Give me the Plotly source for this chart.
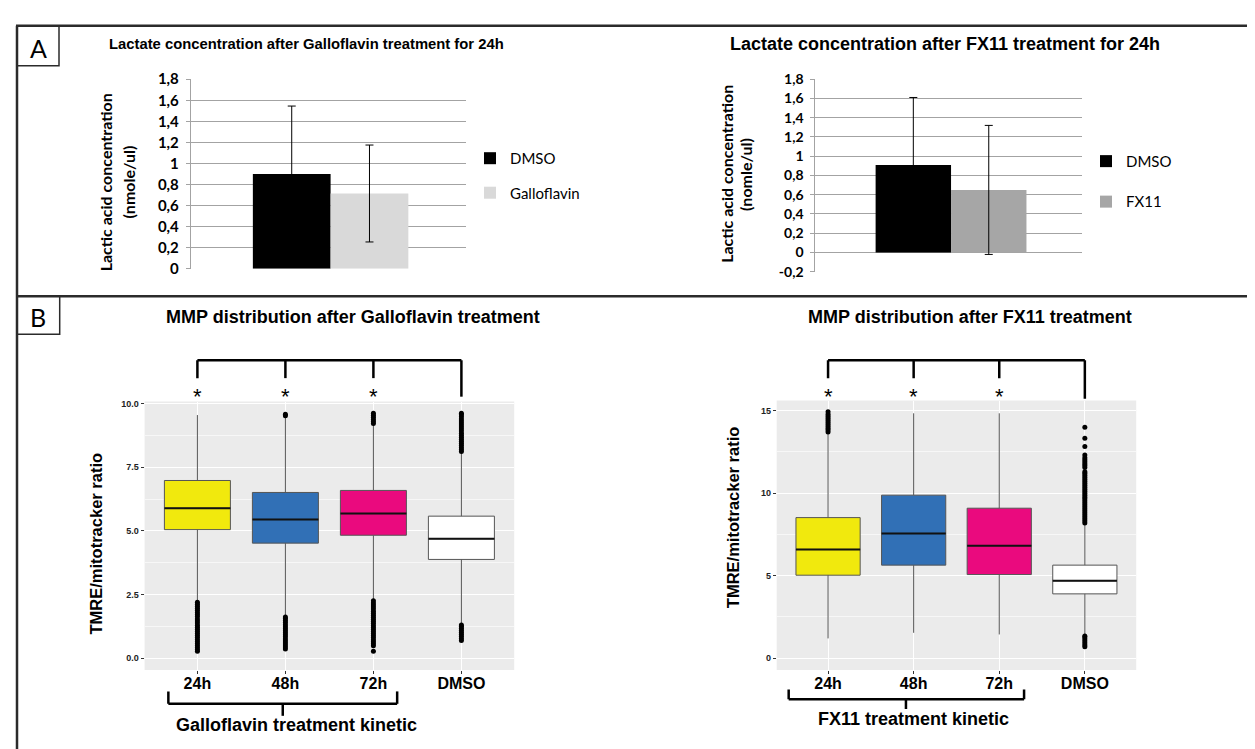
import plotly.graph_objects as go

W, H = 1255, 749

# ---------------- Panel A data (lactate) ----------------
lact_gallo_groups = ["DMSO", "Galloflavin"]
lact_gallo_mean = [0.90, 0.715]
lact_gallo_err = [0.645, 0.46]
lact_gallo_colors = ["#000000", "#d9d9d9"]

lact_fx_groups = ["DMSO", "FX11"]
lact_fx_mean = [0.91, 0.65]
lact_fx_err = [0.70, 0.67]
lact_fx_colors = ["#000000", "#a6a6a6"]

lact_ticks_left = [0, 0.2, 0.4, 0.6, 0.8, 1.0, 1.2, 1.4, 1.6, 1.8]
lact_ticks_right = [-0.2, 0, 0.2, 0.4, 0.6, 0.8, 1.0, 1.2, 1.4, 1.6, 1.8]

# ---------------- Panel B data (MMP box plots) ----------------
mmp_groups = ["24h", "48h", "72h", "DMSO"]
box_colors = ["#f1e90d", "#3170b6", "#ea0a7e", "#ffffff"]

gallo_q1 = [5.05, 4.52, 4.83, 3.88]
gallo_median = [5.89, 5.45, 5.68, 4.69]
gallo_q3 = [6.98, 6.51, 6.59, 5.58]
gallo_lower = [2.24, 1.68, 2.30, 1.36]
gallo_upper = [9.55, 9.45, 9.18, 8.08]
gallo_outliers = [
    [0.27, 0.34, 0.42, 0.50, 0.58, 0.66, 0.74, 0.82, 0.90, 0.98, 1.06, 1.14, 1.22,
     1.30, 1.38, 1.46, 1.54, 1.64, 1.72, 1.80, 1.88, 1.96, 2.04, 2.12, 2.20],
    [0.36, 0.44, 0.52, 0.60, 0.68, 0.76, 0.84, 0.92, 1.00, 1.08, 1.16, 1.24, 1.32,
     1.40, 1.48, 1.56, 1.62, 9.52, 9.58],
    [0.27, 0.49, 0.57, 0.65, 0.73, 0.81, 0.89, 0.97, 1.05, 1.13, 1.21, 1.29, 1.37,
     1.45, 1.53, 1.61, 1.69, 1.77, 1.85, 1.93, 2.01, 2.09, 2.17, 2.26,
     9.22, 9.30, 9.38, 9.46, 9.54, 9.62],
    [0.70, 0.78, 0.86, 0.94, 1.02, 1.10, 1.18, 1.26, 1.31,
     8.12, 8.20, 8.28, 8.36, 8.44, 8.52, 8.60, 8.68, 8.76, 8.84, 8.92, 9.00, 9.08,
     9.16, 9.24, 9.32, 9.40, 9.48, 9.56, 9.62],
]

fx_q1 = [5.03, 5.64, 5.07, 3.90]
fx_median = [6.59, 7.56, 6.82, 4.69]
fx_q3 = [8.52, 9.88, 9.09, 5.64]
fx_lower = [1.20, 1.54, 1.44, 1.42]
fx_upper = [13.65, 14.84, 14.84, 8.16]
fx_outliers = [
    [13.70, 13.82, 13.94, 14.06, 14.18, 14.30, 14.42, 14.54, 14.66, 14.78, 14.94],
    [],
    [],
    [0.69, 0.80, 0.92, 1.04, 1.16, 1.28, 1.34,
     8.20, 8.32, 8.44, 8.56, 8.68, 8.80, 8.92, 9.04, 9.16, 9.28, 9.40, 9.52, 9.64,
     9.76, 9.88, 10.00, 10.12, 10.24, 10.36, 10.48, 10.60, 10.72, 10.84, 10.96,
     11.08, 11.20, 11.30, 11.55, 11.67, 11.79, 11.91, 12.03, 12.15, 12.32,
     12.83, 13.33, 14.00],
]

BOX_WIDTH = 0.75


def px(v):
    return v / W


def py(v):
    return 1 - v / H


fig = go.Figure()

# ---------- Panel A bars ----------
for name, m, e, c in zip(lact_gallo_groups, lact_gallo_mean, lact_gallo_err, lact_gallo_colors):
    fig.add_trace(go.Bar(
        x=[0], y=[m], name=name, marker=dict(color=c, line=dict(width=0)),
        error_y=dict(type="data", array=[e], color="#000000", thickness=1, width=4),
        xaxis="x", yaxis="y", legend="legend", legendgroup="g" + name,
    ))
for name, m, e, c in zip(lact_fx_groups, lact_fx_mean, lact_fx_err, lact_fx_colors):
    fig.add_trace(go.Bar(
        x=[0], y=[m], name=name, marker=dict(color=c, line=dict(width=0)),
        error_y=dict(type="data", array=[e], color="#000000", thickness=1, width=4),
        xaxis="x2", yaxis="y2", legend="legend2", legendgroup="f" + name,
    ))

# ---------- Panel B boxes ----------
def add_boxes(q1s, meds, q3s, lows, ups, outs, xa, ya):
    for i, g in enumerate(mmp_groups):
        pos = i + 1
        fig.add_trace(go.Box(
            x=[pos], q1=[q1s[i]], median=[meds[i]], q3=[q3s[i]],
            lowerfence=[lows[i]], upperfence=[ups[i]],
            width=BOX_WIDTH, whiskerwidth=0, fillcolor=box_colors[i],
            line=dict(color="#555555", width=1), boxpoints=False,
            name=g, showlegend=False, xaxis=xa, yaxis=ya, hoverinfo="skip",
        ))
        # thick median line
        fig.add_trace(go.Scatter(
            x=[pos - BOX_WIDTH / 2, pos + BOX_WIDTH / 2], y=[meds[i], meds[i]],
            mode="lines", line=dict(color="#111111", width=2),
            showlegend=False, xaxis=xa, yaxis=ya, hoverinfo="skip",
        ))
        if outs[i]:
            fig.add_trace(go.Scatter(
                x=[pos] * len(outs[i]), y=outs[i], mode="markers",
                marker=dict(color="#000000", size=5),
                showlegend=False, xaxis=xa, yaxis=ya, hoverinfo="skip",
            ))


add_boxes(gallo_q1, gallo_median, gallo_q3, gallo_lower, gallo_upper, gallo_outliers, "x3", "y3")
add_boxes(fx_q1, fx_median, fx_q3, fx_lower, fx_upper, fx_outliers, "x4", "y4")

# ---------- Axes ----------
grid_a = "#a3a3a3"


def comma_labels(vals):
    return [f"{round(v, 1):g}".replace(".", ",") for v in vals]


common_xa = dict(showticklabels=False, showgrid=False, zeroline=False, ticks="", fixedrange=True)
fig.update_layout(
    xaxis=dict(domain=[px(182.8), px(458)], range=[-0.508, 0.492], anchor="y", **common_xa),
    yaxis=dict(domain=[py(257), py(62.7)], range=[0, 1.8], anchor="x",
               tickmode="array", tickvals=lact_ticks_left, ticktext=comma_labels(lact_ticks_left),
               showgrid=True, gridcolor=grid_a, gridwidth=1, zeroline=False,
               showline=True, linecolor=grid_a, linewidth=1,
               ticks="outside", ticklen=4, tickcolor=grid_a, ticklabelstandoff=4,
               tickfont=dict(family="Lato", size=15, color="#000000", weight="bold")),
    xaxis2=dict(domain=[px(807.4), px(1074.4)], range=[-0.508, 0.492], anchor="y2", **common_xa),
    yaxis2=dict(domain=[py(260), py(62.7)], range=[-0.2, 1.8], anchor="x2",
                tickmode="array", tickvals=lact_ticks_right, ticktext=comma_labels(lact_ticks_right),
                showgrid=True, gridcolor=grid_a, gridwidth=1, zeroline=False,
                showline=True, linecolor=grid_a, linewidth=1,
                ticks="outside", ticklen=4, tickcolor=grid_a, ticklabelstandoff=4,
                tickfont=dict(family="Lato", size=14, color="#000000", weight="bold")),
    barmode="group", bargap=0.435, bargroupgap=0,
)

box_x_common = dict(range=[0.4, 4.6], tickmode="array", tickvals=[1, 2, 3, 4], ticktext=mmp_groups,
                    showgrid=True, gridcolor="#ffffff", gridwidth=1.2, zeroline=False,
                    ticks="outside", ticklen=3, tickcolor="#333333", ticklabelstandoff=-4,
                    tickfont=dict(family="Liberation Sans", size=16, color="#000000", weight="bold"),
                    showline=False)
box_y_tickfont = dict(family="Liberation Sans", size=9, color="#222222", weight="bold")
fig.update_layout(
    xaxis3=dict(domain=[px(136.6), px(506.2)], anchor="y3", **box_x_common),
    yaxis3=dict(domain=[py(668), py(393)], range=[-0.46, 10.08], anchor="x3",
                tickmode="linear", tick0=0, dtick=2.5, tickformat=".1f",
                showgrid=True, gridcolor="#ffffff", gridwidth=1.2, zeroline=False,
                ticks="outside", ticklen=3, tickcolor="#333333", tickfont=box_y_tickfont,
                minor=dict(tickmode="linear", tick0=0, dtick=1.25, showgrid=True,
                           gridcolor="#f7f7f7", gridwidth=0.6, ticks="")),
    xaxis4=dict(domain=[px(768.7), px(1128.2)], anchor="y4", **box_x_common),
    yaxis4=dict(domain=[py(668), py(392)], range=[-0.71, 15.61], anchor="x4",
                tickmode="linear", tick0=0, dtick=5,
                showgrid=True, gridcolor="#ffffff", gridwidth=1.2, zeroline=False,
                ticks="outside", ticklen=3, tickcolor="#333333", tickfont=box_y_tickfont,
                minor=dict(tickmode="linear", tick0=0, dtick=2.5, showgrid=True,
                           gridcolor="#f7f7f7", gridwidth=0.6, ticks="")),
    boxmode="overlay",
)

# ---------- Legends ----------
legend_font = dict(family="Lato", size=15, color="#000000")
fig.update_layout(
    legend=dict(x=px(462), y=py(127), xanchor="left", yanchor="top", font=legend_font,
                traceorder="grouped", tracegroupgap=12, itemwidth=30, bgcolor="rgba(0,0,0,0)"),
    legend2=dict(x=px(1078), y=py(130), xanchor="left", yanchor="top", font=legend_font,
                 traceorder="grouped", tracegroupgap=18, itemwidth=30, bgcolor="rgba(0,0,0,0)"),
)

# ---------- Shapes (frames, backgrounds, brackets) ----------
shapes = []
frame = dict(color="#2b2b2b", width=2.5)
shapes.append(dict(type="line", xref="paper", yref="paper", x0=px(8), x1=1, y0=py(8), y1=py(8), line=frame))
shapes.append(dict(type="line", xref="paper", yref="paper", x0=px(9), x1=px(9), y0=py(8), y1=0, line=frame))
shapes.append(dict(type="line", xref="paper", yref="paper", x0=px(9), x1=1, y0=py(285), y1=py(285), line=frame))
shapes.append(dict(type="rect", xref="paper", yref="paper", x0=px(9), x1=px(51), y0=py(49), y1=py(8),
                   line=dict(color="#2b2b2b", width=1.5)))
shapes.append(dict(type="rect", xref="paper", yref="paper", x0=px(9), x1=px(51.7), y0=py(324), y1=py(285),
                   line=dict(color="#2b2b2b", width=1.5)))
for xa, ya in (("x3", "y3"), ("x4", "y4")):
    shapes.append(dict(type="rect", xref=xa + " domain", yref=ya + " domain", x0=0, x1=1, y0=0, y1=1,
                       fillcolor="#ebebeb", line=dict(width=0), layer="below"))

brk = dict(color="#000000", width=2.5)


def add_brackets(xa, top_y, short_y, long_y, bot_y, hook_y, tail_y, bl, br, bm):
    # top significance bracket across the four groups
    shapes.append(dict(type="line", xref=xa, yref="paper", x0=1, x1=4, y0=py(top_y), y1=py(top_y), line=brk))
    for pos in (1, 2, 3):
        shapes.append(dict(type="line", xref=xa, yref="paper", x0=pos, x1=pos,
                           y0=py(top_y), y1=py(short_y), line=brk))
    shapes.append(dict(type="line", xref=xa, yref="paper", x0=4, x1=4, y0=py(top_y), y1=py(long_y), line=brk))
    # bottom grouping brace
    shapes.append(dict(type="line", xref=xa, yref="paper", x0=bl, x1=br, y0=py(bot_y), y1=py(bot_y), line=brk))
    shapes.append(dict(type="line", xref=xa, yref="paper", x0=bl, x1=bl, y0=py(bot_y), y1=py(hook_y), line=brk))
    shapes.append(dict(type="line", xref=xa, yref="paper", x0=br, x1=br, y0=py(bot_y), y1=py(hook_y), line=brk))
    shapes.append(dict(type="line", xref=xa, yref="paper", x0=bm, x1=bm, y0=py(bot_y), y1=py(tail_y), line=brk))


add_brackets("x3", 350.7, 369, 388, 702.7, 690, 715, 0.67, 3.27, 1.97)
add_brackets("x4", 350.7, 369, 390, 698, 688, 708, 0.54, 3.29, 1.91)

fig.update_layout(shapes=shapes)

# ---------- Annotations ----------
ann = []


def text(x, y, s, size, family="Liberation Sans", bold=True, angle=0, xref="paper"):
    ann.append(dict(x=x, y=y, xref=xref, yref="paper", text=s, showarrow=False,
                    xanchor="center", yanchor="middle", textangle=angle,
                    font=dict(family=family, size=size, color="#000000",
                              weight="bold" if bold else "normal")))


text(px(30), py(31), "A", 25, family="Lato", bold=False)
text(px(30), py(306), "B", 25, family="Lato", bold=False)
text(px(298.7), py(27), "Lactate concentration after Galloflavin treatment for 24h", 14.8)
text(px(937), py(27), "Lactate concentration after FX11 treatment for 24h", 18)
text(px(98.4), py(168), "Lactic acid concentration", 16, family="Lato", angle=-90)
text(px(120.5), py(168), "(nmole/ul)", 16, family="Lato", angle=-90)
text(px(717.7), py(160), "Lactic acid concentration", 16, family="Lato", angle=-90)
text(px(736.8), py(160), "(nomle/ul)", 16, family="Lato", angle=-90)
text(px(344.5), py(306), "MMP distribution after Galloflavin treatment", 18)
text(px(962.4), py(306), "MMP distribution after FX11 treatment", 18)
text(px(88.4), py(538), "TMRE/mitotracker ratio", 16.5, angle=-90)
text(px(724.5), py(512), "TMRE/mitotracker ratio", 16.5, angle=-90)
for xa in ("x3", "x4"):
    for pos in (1, 2, 3):
        text(pos, py(388), "*", 22, xref=xa, bold=False)
text(px(288.5), py(724), "Galloflavin treatment kinetic", 18)
text(px(905.8), py(718), "FX11 treatment kinetic", 18)

fig.update_layout(annotations=ann)

fig.update_layout(
    width=W, height=H, margin=dict(l=0, r=0, t=0, b=0),
    paper_bgcolor="#ffffff", plot_bgcolor="rgba(0,0,0,0)",
    font=dict(family="Liberation Sans", color="#000000"),
)

fig.write_html("out.html")
